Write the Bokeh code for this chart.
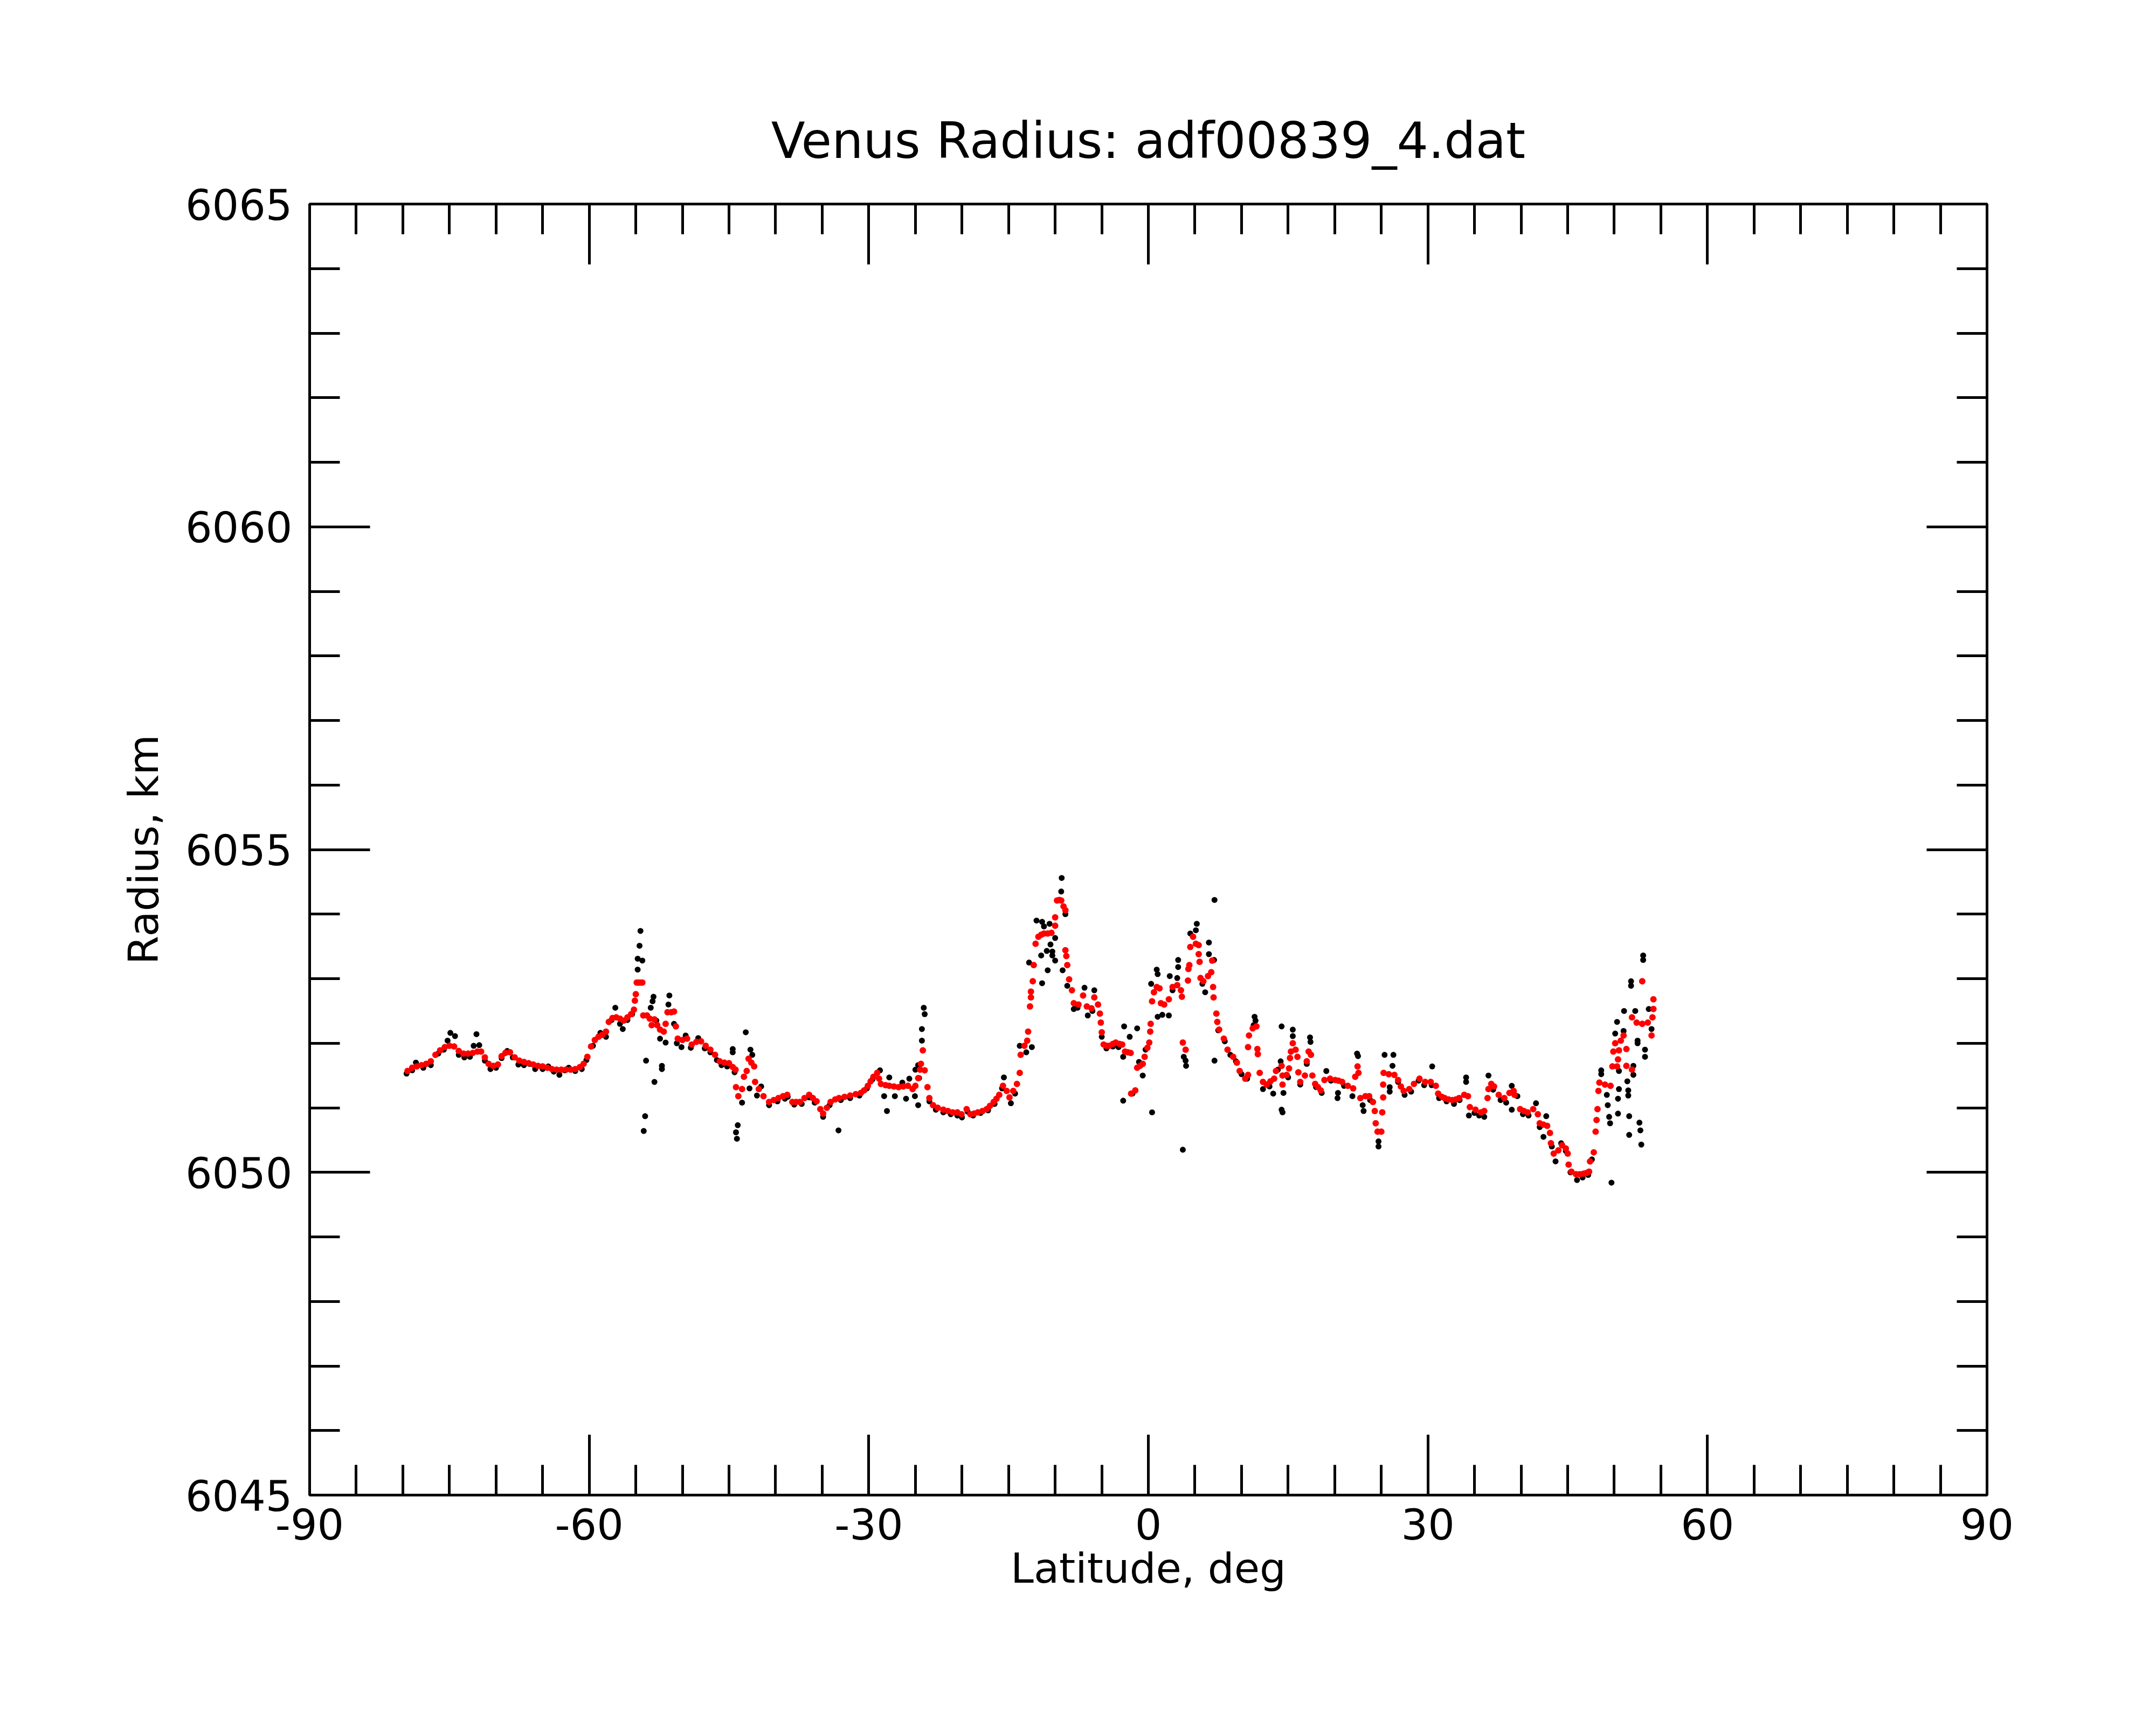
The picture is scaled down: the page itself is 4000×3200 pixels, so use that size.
from bokeh.plotting import figure
from bokeh.models import (Range1d, LinearAxis, SingleIntervalTicker, FixedTicker, Title,
                          CustomJSTickFormatter)
from bokeh.embed import file_html
from bokeh.resources import INLINE

# ---------------- data ----------------
title_text = "Venus Radius: adf00839_4.dat"
x_label = "Latitude, deg"
y_label = "Radius, km"

# smoothed profile (red)
red_lat = [
    -79.5, -79.0, -78.5, -78.0, -77.5, -77.0, -76.5, -76.0, -75.5, -75.0,
    -74.5, -74.0, -73.5, -73.0, -72.5, -72.0, -71.6, -71.2, -70.8, -70.3,
    -69.8, -69.4, -69.0, -68.5, -68.0, -67.5, -67.0, -66.5, -66.0, -65.5,
    -65.0, -64.5, -64.0, -63.5, -63.0, -62.5, -62.0, -61.5, -61.0, -60.6,
    -60.2, -59.8, -59.4, -59.0, -58.6, -58.2, -57.9, -57.5, -57.1, -56.7,
    -56.3, -55.9, -55.5, -55.2, -55.1, -55.0, -54.9, -54.7, -54.5, -54.3,
    -54.2, -53.8, -53.5, -53.3, -53.0, -52.7, -52.4, -52.0, -51.8, -51.6,
    -51.2, -50.9, -50.7, -50.5, -50.0, -49.5, -49.0, -48.5, -48.0, -47.5,
    -47.0, -46.5, -46.0, -45.5, -45.0, -44.6, -44.3, -44.25, -44.0, -43.6,
    -43.4, -43.1, -42.9, -42.6, -42.3, -42.2, -41.8, -41.3, -40.7, -40.2,
    -39.7, -39.2, -38.75, -38.2, -37.8, -37.4, -36.9, -36.4, -36.0, -35.6,
    -35.2, -34.9, -34.5, -34.1, -33.6, -33.2, -32.6, -32.0, -31.4, -30.85,
    -30.5, -30.1, -29.8, -29.5, -29.1, -28.9, -28.7, -28.2, -27.8, -27.3,
    -26.8, -26.3, -25.8, -25.3, -25.0, -24.7, -24.5, -24.4, -24.2, -24.0,
    -23.7, -23.5, -23.1, -22.6, -22.0, -21.5, -21.0, -20.5, -20.05, -19.5,
    -19.1, -18.7, -18.3, -17.8, -17.35, -17.0, -16.6, -16.3, -16.0, -15.6,
    -15.2, -14.9, -14.5, -14.1, -13.8, -13.7, -13.3, -13.0, -12.9, -12.7,
    -12.6, -12.6, -12.4, -12.3, -12.1, -11.8, -11.5, -11.2, -10.8, -10.4,
    -10.0, -10.0, -9.8, -9.55, -9.35, -9.1, -8.9, -8.9, -8.8, -8.7,
    -8.5, -8.2, -8.0, -7.5, -7.0, -6.6, -6.1, -5.8, -5.4, -5.2,
    -5.1, -5.0, -4.8, -4.5, -4.2, -3.8, -3.5, -3.1, -2.8, -2.5,
    -2.2, -1.9, -1.85, -1.4, -1.2, -0.9, -0.6, -0.4, -0.1, 0.1,
    0.2, 0.25, 0.4, 0.6, 0.9, 1.2, 1.35, 1.7, 2.2, 2.6,
    3.1, 3.5, 3.6, 3.7, 4.0, 4.25, 4.3, 4.4, 4.5, 4.8,
    5.1, 5.4, 5.4, 5.5, 5.6, 5.9, 6.4, 6.75, 6.85, 6.95,
    7.0, 7.3, 7.4, 7.6, 8.1, 8.5, 9.1, 9.5, 9.8, 10.4,
    10.7, 10.7, 10.8, 11.2, 11.6, 11.7, 11.75, 11.95, 12.3, 12.7,
    13.1, 13.5, 13.7, 14.3, 14.4, 14.4, 14.85, 15.1, 15.2, 15.3,
    15.5, 15.8, 16.0, 16.1, 16.3, 16.8, 17.0, 17.2, 17.45, 17.6,
    17.9, 18.2, 18.5, 18.9, 19.5, 20.05, 20.4, 20.8, 21.4, 21.98,
    22.2, 22.45, 22.55, 22.75, 23.3, 23.7, 24.1, 24.3, 24.4, 24.6,
    25.0, 25.1, 25.2, 25.2, 25.25, 25.8, 26.4, 26.8, 27.1, 27.4,
    28.0, 28.5, 29.1, 29.7, 30.3, 30.85, 31.1, 31.5, 31.8, 32.2,
    32.6, 33.0, 33.35, 33.9, 34.3, 34.5, 35.1, 35.7, 36.05, 36.4,
    36.5, 36.8, 37.1, 37.6, 38.2, 38.75, 39.2, 39.3, 39.9, 40.3,
    40.7, 41.3, 41.8, 42.0, 42.4, 42.8, 43.1, 43.2, 43.5, 44.0,
    44.4, 44.8, 45.0, 45.1, 45.4, 45.9, 46.3, 46.7, 47.0, 47.3,
    47.4, 47.8, 48.0, 48.1, 48.2, 48.3, 48.4, 49.0, 49.6, 49.8,
    50.3, 49.9, 50.4, 50.5, 50.1, 50.7, 51.0, 51.3, 51.3, 51.9,
    51.9, 52.4, 53.0, 53.6, 54.1, 54.2, 54.2, 54.0, 53.0,
]
red_radius = [
    6051.57, 6051.62, 6051.64, 6051.66, 6051.68, 6051.72, 6051.82, 6051.89, 6051.94, 6051.96,
    6051.95, 6051.88, 6051.84, 6051.84, 6051.85, 6051.87, 6051.87, 6051.78, 6051.68, 6051.65,
    6051.67, 6051.80, 6051.85, 6051.86, 6051.78, 6051.73, 6051.71, 6051.69, 6051.67, 6051.65,
    6051.64, 6051.62, 6051.60, 6051.59, 6051.59, 6051.59, 6051.59, 6051.60, 6051.63, 6051.68,
    6051.79, 6051.95, 6052.05, 6052.10, 6052.13, 6052.18, 6052.33, 6052.39, 6052.40, 6052.38,
    6052.35, 6052.40, 6052.45, 6052.52, 6052.66, 6052.76, 6052.94, 6052.94, 6052.94, 6052.94,
    6052.43, 6052.43, 6052.38, 6052.28, 6052.37, 6052.28, 6052.21, 6052.18, 6052.30, 6052.48,
    6052.48, 6052.49, 6052.26, 6052.07, 6052.05, 6052.07, 6051.98, 6052.02, 6052.03, 6051.96,
    6051.90, 6051.82, 6051.72, 6051.70, 6051.69, 6051.63, 6051.59, 6051.32, 6051.18, 6051.29,
    6051.48, 6051.57, 6051.76, 6051.70, 6051.64, 6051.40, 6051.29, 6051.18, 6051.09, 6051.12,
    6051.15, 6051.18, 6051.20, 6051.09, 6051.09, 6051.09, 6051.15, 6051.20, 6051.15, 6051.10,
    6050.98, 6050.91, 6051.00, 6051.09, 6051.13, 6051.15, 6051.17, 6051.19, 6051.21, 6051.23,
    6051.27, 6051.34, 6051.41, 6051.48, 6051.54, 6051.45, 6051.37, 6051.35, 6051.34, 6051.33,
    6051.32, 6051.33, 6051.34, 6051.29, 6051.34, 6051.46, 6051.59, 6051.68, 6051.89, 6051.58,
    6051.32, 6051.15, 6051.04, 6051.00, 6050.97, 6050.95, 6050.93, 6050.93, 6050.90, 6050.98,
    6050.90, 6050.91, 6050.93, 6050.95, 6050.98, 6051.03, 6051.09, 6051.14, 6051.20, 6051.34,
    6051.26, 6051.16, 6051.26, 6051.37, 6051.54, 6051.82, 6051.96, 6052.04, 6052.18, 6052.57,
    6052.71, 6052.80, 6052.96, 6053.21, 6053.54, 6053.65, 6053.68, 6053.70, 6053.70, 6053.71,
    6053.82, 6053.95, 6054.21, 6054.22, 6054.21, 6054.12, 6054.06, 6053.44, 6053.35, 6053.21,
    6052.99, 6052.82, 6052.62, 6052.60, 6052.74, 6052.57, 6052.54, 6052.71, 6052.60, 6052.46,
    6052.32, 6052.17, 6051.98, 6051.96, 6051.96, 6051.99, 6052.01, 6051.99, 6051.98, 6051.87,
    6051.86, 6051.85, 6051.22, 6051.27, 6051.62, 6051.65, 6051.68, 6051.79, 6051.93, 6052.01,
    6052.18, 6052.30, 6052.65, 6052.79, 6052.87, 6052.85, 6052.62, 6052.60, 6052.68, 6052.87,
    6052.90, 6052.82, 6052.72, 6052.01, 6051.90, 6052.97, 6053.15, 6053.21, 6053.49, 6053.65,
    6053.54, 6053.52, 6053.38, 6053.26, 6053.01, 6052.96, 6053.04, 6053.10, 6053.28, 6052.87,
    6052.71, 6052.46, 6052.33, 6052.21, 6052.07, 6051.90, 6051.79, 6051.70, 6051.57, 6051.45,
    6051.51, 6051.94, 6052.12, 6052.23, 6052.26, 6051.91, 6051.83, 6051.54, 6051.40, 6051.36,
    6051.41, 6051.45, 6051.57, 6051.65, 6051.50, 6051.36, 6051.51, 6051.61, 6051.77, 6051.87,
    6052.00, 6051.90, 6051.79, 6051.55, 6051.40, 6051.50, 6051.72, 6051.87, 6051.82, 6051.50,
    6051.37, 6051.32, 6051.27, 6051.43, 6051.45, 6051.43, 6051.42, 6051.40, 6051.34, 6051.30,
    6051.48, 6051.64, 6051.54, 6051.15, 6051.18, 6051.18, 6051.09, 6050.95, 6050.76, 6050.63,
    6050.63, 6050.93, 6051.16, 6051.36, 6051.54, 6051.52, 6051.51, 6051.43, 6051.33, 6051.26,
    6051.29, 6051.37, 6051.45, 6051.40, 6051.40, 6051.34, 6051.22, 6051.17, 6051.15, 6051.13,
    6051.12, 6051.13, 6051.15, 6051.20, 6051.18, 6051.01, 6050.97, 6050.93, 6050.95, 6051.15,
    6051.29, 6051.37, 6051.33, 6051.20, 6051.15, 6051.23, 6051.26, 6051.20, 6050.98, 6050.95,
    6050.93, 6050.98, 6050.90, 6050.76, 6050.74, 6050.72, 6050.61, 6050.45, 6050.29, 6050.34,
    6050.42, 6050.37, 6050.29, 6050.12, 6050.01, 6049.97, 6049.97, 6049.98, 6049.99, 6050.01,
    6050.17, 6050.31, 6050.63, 6050.81, 6050.98, 6051.26, 6051.39, 6051.36, 6051.34, 6051.64,
    6051.64, 6051.87, 6051.75, 6051.89, 6052.00, 6052.04, 6052.12, 6051.91, 6051.65, 6051.59,
    6052.40, 6052.32, 6052.30, 6052.32, 6052.40, 6052.53, 6052.68, 6052.12, 6052.96,
]

# raw measurements (black)
black_lat = [
    -79.6, -79.0, -78.6, -77.8, -77.0, -76.2, -75.6, -75.2, -74.9, -74.4,
    -74.0, -73.4, -72.8, -72.4, -72.1, -71.8, -71.2, -70.6, -70.0, -69.4,
    -68.8, -68.2, -67.6, -67.0, -66.4, -65.8, -65.0, -64.4, -63.8, -63.2,
    -62.6, -62.2, -61.5, -60.8, -60.3, -59.6, -58.8, -58.2, -57.6, -57.2,
    -56.7, -56.4, -55.9, -55.4, -54.8, -54.8, -54.6, -54.5, -54.3, -54.15,
    -54.0, -53.9, -53.4, -53.2, -53.1, -53.0, -52.8, -52.4, -52.2, -52.2,
    -51.8, -51.5, -51.4, -50.9, -50.6, -50.1, -49.65, -49.1, -48.3, -47.6,
    -47.0, -46.3, -45.8, -45.2, -44.6, -44.6, -44.4, -44.25, -44.15, -44.06,
    -43.6, -43.2, -42.8, -42.7, -42.5, -42.0, -41.55, -40.7, -39.8, -39.0,
    -38.7, -38.0, -37.2, -36.4, -35.8, -34.9, -34.2, -33.25, -33.0, -32.0,
    -31.0, -30.2, -29.6, -28.8, -28.35, -28.05, -27.8, -27.2, -26.4, -26.0,
    -25.65, -25.05, -24.7, -25.0, -24.7, -24.6, -24.3, -24.3, -24.0, -24.1,
    -23.5, -22.8, -22.0, -21.2, -20.5, -20.0, -19.4, -18.8, -18.0, -17.2,
    -16.5, -15.7, -15.5, -14.75, -14.3, -13.8, -13.1, -12.8, -12.5, -12.0,
    -11.5, -11.4, -11.4, -11.2, -10.9, -10.8, -10.6, -10.5, -10.3, -10.3,
    -10.0, -10.0, -9.35, -9.3, -9.2, -8.9, -8.7, -8.0, -7.6, -6.85,
    -6.5, -6.0, -5.8, -5.0, -4.5, -3.8, -3.2, -2.7, -2.7, -2.6,
    -2.0, -1.7, -1.2, -1.0, -0.6, -0.3, 0.3, 0.4, 0.9, 1.0,
    1.0, 1.5, 2.2, 2.3, 2.6, 3.1, 3.2, 3.2, 3.7, 3.8,
    4.0, 4.05, 4.5, 5.1, 5.2, 5.8, 6.1, 6.5, 6.5, 7.05,
    7.1, 7.1, 7.5, 8.2, 8.8, 9.4, 10.0, 10.6, 11.3, 11.4,
    11.5, 12.3, 13.0, 13.4, 13.9, 14.2, 14.3, 14.3, 14.4, 14.5,
    15.0, 15.5, 15.5, 16.3, 17.0, 17.35, 17.4, 18.0, 18.6, 19.1,
    19.6, 20.3, 20.35, 21.0, 21.9, 22.4, 22.5, 23.0, 23.1, 23.8,
    24.7, 24.7, 25.35, 25.9, 25.9, 26.2, 26.3, 26.8, 27.5, 28.2,
    29.0, 29.6, 30.46, 30.4, 31.2, 32.0, 32.8, 33.4, 34.1, 34.1,
    34.4, 35.0, 35.5, 36.05, 36.5, 37.0, 37.8, 38.4, 39.0, 39.0,
    39.6, 40.2, 40.8, 41.6, 42.0, 42.4, 42.7, 43.3, 43.7, 44.3,
    44.8, 45.3, 46.0, 46.6, 47.2, 47.6, 48.6, 48.6, 49.2, 49.3,
    49.45, 49.55, 49.7, 50.1, 50.3, 50.4, 50.4, 50.5, 50.5, 51.0,
    51.05, 51.4, 51.5, 51.5, 51.6, 51.6, 51.8, 51.8, 52.05, 52.05,
    52.25, 52.5, 52.5, 52.7, 52.8, 52.9, 53.1, 53.1, 53.3, 53.3,
    53.7, 54.0,
]
black_radius = [
    6051.53, 6051.58, 6051.70, 6051.62, 6051.66, 6051.84, 6051.90, 6052.04, 6052.16, 6052.11,
    6051.82, 6051.78, 6051.79, 6051.96, 6052.14, 6051.97, 6051.73, 6051.60, 6051.62, 6051.77,
    6051.88, 6051.78, 6051.67, 6051.66, 6051.68, 6051.60, 6051.60, 6051.64, 6051.56, 6051.51,
    6051.58, 6051.62, 6051.57, 6051.60, 6051.74, 6051.96, 6052.16, 6052.10, 6052.36, 6052.55,
    6052.30, 6052.22, 6052.36, 6052.45, 6053.14, 6053.31, 6053.51, 6053.74, 6053.28, 6050.64,
    6050.87, 6051.73, 6052.55, 6052.65, 6052.72, 6051.40, 6052.35, 6052.07, 6051.65, 6051.60,
    6052.01, 6052.60, 6052.74, 6052.30, 6052.00, 6051.94, 6052.12, 6051.93, 6052.08, 6051.92,
    6051.86, 6051.74, 6051.66, 6051.64, 6051.91, 6051.86, 6051.55, 6050.62, 6050.52, 6050.73,
    6051.08, 6052.17, 6051.30, 6051.90, 6051.82, 6051.19, 6051.33, 6051.04, 6051.10, 6051.14,
    6051.17, 6051.05, 6051.06, 6051.16, 6051.08, 6050.86, 6051.04, 6050.65, 6051.12, 6051.15,
    6051.19, 6051.30, 6051.44, 6051.58, 6051.18, 6050.95, 6051.47, 6051.18, 6051.39, 6051.14,
    6051.45, 6051.18, 6051.04, 6051.59, 6051.66, 6051.46, 6052.04, 6052.22, 6052.45, 6052.55,
    6051.10, 6050.97, 6050.93, 6050.90, 6050.88, 6050.85, 6050.94, 6050.88, 6050.92, 6050.96,
    6051.06, 6051.30, 6051.47, 6051.07, 6051.22, 6051.96, 6051.86, 6053.25, 6051.94, 6053.90,
    6053.36, 6053.88, 6052.93, 6053.81, 6053.43, 6053.13, 6053.85, 6053.53, 6053.42, 6053.36,
    6053.63, 6053.28, 6054.35, 6054.56, 6053.13, 6054.00, 6052.89, 6052.53, 6052.55, 6052.86,
    6052.43, 6052.50, 6052.82, 6052.10, 6051.92, 6051.95, 6051.94, 6051.79, 6051.11, 6052.26,
    6052.10, 6051.22, 6052.23, 6051.71, 6051.50, 6051.90, 6052.92, 6050.93, 6053.14, 6053.07,
    6052.41, 6052.44, 6052.43, 6053.04, 6052.82, 6053.01, 6053.29, 6053.18, 6050.35, 6051.79,
    6051.73, 6051.65, 6053.70, 6053.75, 6053.85, 6052.92, 6052.79, 6053.56, 6053.38, 6053.29,
    6054.22, 6051.73, 6052.20, 6052.03, 6051.82, 6051.72, 6051.52, 6051.45, 6052.28, 6052.41,
    6052.35, 6051.29, 6051.33, 6051.22, 6051.59, 6051.72, 6052.26, 6050.97, 6050.93, 6051.23,
    6051.47, 6052.21, 6052.11, 6051.36, 6051.68, 6052.09, 6052.02, 6051.32, 6051.23, 6051.57,
    6051.42, 6051.15, 6051.23, 6051.34, 6051.18, 6051.84, 6051.80, 6051.04, 6050.95, 6051.12,
    6050.40, 6050.48, 6051.82, 6051.25, 6051.32, 6051.65, 6051.82, 6051.40, 6051.20, 6051.25,
    6051.42, 6051.35, 6051.64, 6051.35, 6051.15, 6051.10, 6051.06, 6051.12, 6051.47, 6051.40,
    6050.88, 6050.92, 6050.88, 6050.86, 6051.50, 6051.28, 6051.12, 6051.08, 6051.34, 6050.97,
    6051.18, 6050.90, 6050.88, 6051.07, 6050.70, 6050.55, 6050.87, 6050.40, 6050.17, 6050.45,
    6050.33, 6050.00, 6049.88, 6049.92, 6049.96, 6050.20, 6051.58, 6051.52, 6051.20, 6051.04,
    6050.86, 6050.76, 6049.84, 6052.15, 6052.33, 6051.14, 6050.91, 6051.57, 6051.29, 6052.19,
    6052.50, 6051.41, 6051.27, 6051.19, 6050.87, 6050.58, 6052.96, 6052.89, 6051.65, 6051.51,
    6052.50, 6052.04, 6052.00, 6050.77, 6050.65, 6050.43, 6053.36, 6053.29, 6051.90, 6051.79,
    6052.53, 6052.22,
]

# axis ranges / tick spacing
x_limits = (-90, 90)
y_limits = (6045, 6065)
x_major, x_minor_count = 30, 6
y_major, y_minor_count = 5, 5

# ---------------- figure ----------------
FONT = "DejaVu Sans"
W, H = 3984, 3184
FL, FT, FW, FH = 574, 378, 3112, 2395   # frame placement inside the figure

p = figure(width=W, height=H, output_backend="svg", toolbar_location=None,
           x_range=Range1d(*x_limits), y_range=Range1d(*y_limits),
           x_axis_type=None, y_axis_type=None,
           min_border_left=FL, min_border_right=W - FL - FW,
           min_border_top=FT, min_border_bottom=H - FT - FH)
p.background_fill_color = "white"
p.border_fill_color = "white"
p.outline_line_color = "black"
p.outline_line_width = 5

plain_fmt = CustomJSTickFormatter(code="return tick.toFixed(0);")


def style_ticks(ax, major_in, minor_in):
    ax.axis_line_color = "black"
    ax.axis_line_width = 5
    ax.major_tick_in = major_in
    ax.major_tick_out = 0
    ax.minor_tick_in = minor_in
    ax.minor_tick_out = 0
    ax.major_tick_line_width = 5
    ax.minor_tick_line_width = 5
    ax.major_tick_line_color = "black"
    ax.minor_tick_line_color = "black"
    return ax


def labelled_axis(interval, n_minor, label, std, lab_std):
    ax = LinearAxis(ticker=SingleIntervalTicker(interval=interval, num_minor_ticks=n_minor),
                    formatter=plain_fmt)
    style_ticks(ax, 112, 56)
    ax.major_label_text_font = FONT
    ax.major_label_text_font_size = "78px"
    ax.major_label_text_color = "black"
    ax.major_label_standoff = std
    ax.axis_label = label
    ax.axis_label_text_font = FONT
    ax.axis_label_text_font_size = "77px"
    ax.axis_label_text_font_style = "normal"
    ax.axis_label_text_color = "black"
    ax.axis_label_standoff = lab_std
    return ax


def mirror_axes(lo, hi, major, minor_step):
    # tick marks only (no labels) for the opposite frame side
    majors = list(range(lo, hi + 1, major))
    minors = [v for v in range(lo, hi + 1, minor_step) if v not in majors]
    a_major = style_ticks(LinearAxis(ticker=FixedTicker(ticks=[], minor_ticks=majors)), 0, 112)
    a_minor = style_ticks(LinearAxis(ticker=FixedTicker(ticks=[], minor_ticks=minors)), 0, 56)
    return a_major, a_minor


p.add_layout(labelled_axis(x_major, x_minor_count, x_label, 24, 6), "below")
p.add_layout(labelled_axis(y_major, y_minor_count, y_label, 32, 30), "left")
for ax in mirror_axes(x_limits[0], x_limits[1], x_major, x_major // x_minor_count):
    p.add_layout(ax, "above")
for ax in mirror_axes(y_limits[0], y_limits[1], y_major, y_major // y_minor_count):
    p.add_layout(ax, "right")

p.title = Title(text=title_text, align="center", text_font=FONT,
                text_font_size="92px", text_font_style="normal",
                text_color="black", standoff=128)

p.scatter(black_lat, black_radius, size=11, fill_color="black", line_color=None)
p.scatter(red_lat, red_radius, size=12, fill_color="#ff0000", line_color=None)

open("out.html", "w").write(file_html(p, INLINE))
